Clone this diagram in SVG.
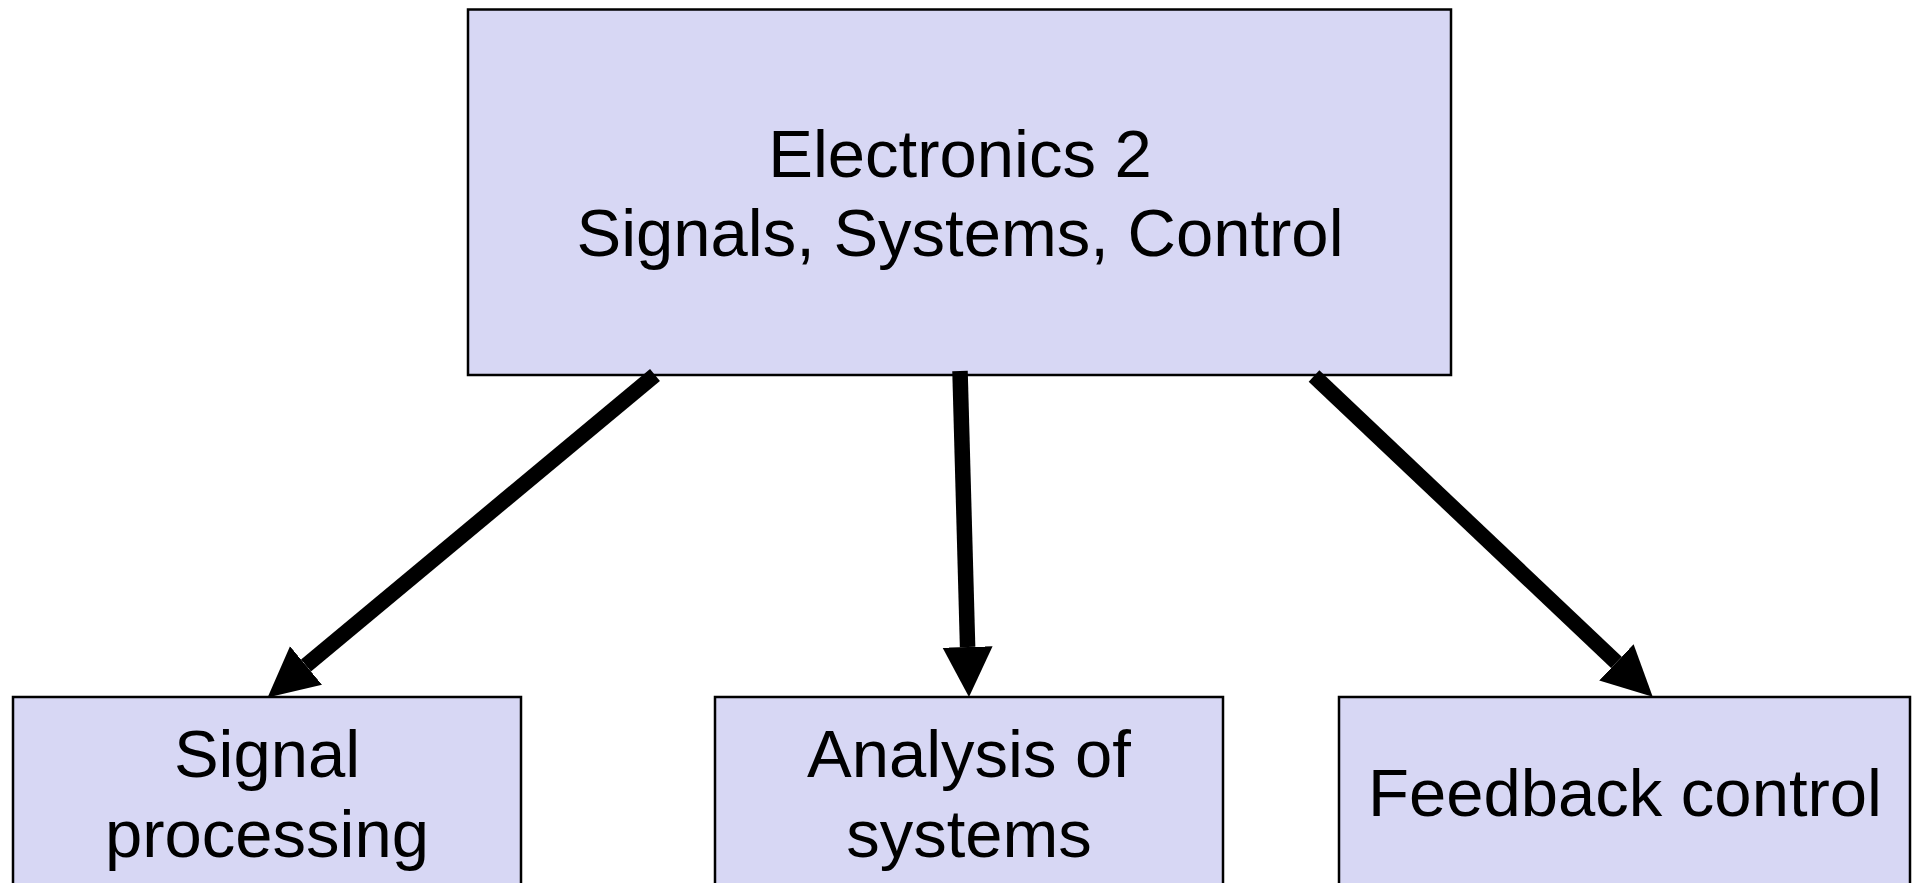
<svg xmlns="http://www.w3.org/2000/svg" width="1912" height="883" viewBox="0 0 1912 883">
  <style>
    .box { fill: #d7d7f4; stroke: #000; stroke-width: 2.5; }
    .label { font-family: "Liberation Sans", Arial, sans-serif; font-size: 67px; fill: #000; text-anchor: middle; }
    .edge { stroke: #000; stroke-width: 15.5; fill: none; marker-end: url(#head); }
  </style>
  <defs>
    <!-- filled arrowhead; its base sits on the line end -->
    <marker id="head" markerUnits="userSpaceOnUse" markerWidth="52" markerHeight="52" refX="0" refY="25" orient="auto" viewBox="0 0 52 52">
      <path d="M0,0 L50,25 L0,50 Z" fill="#000"/>
    </marker>
  </defs>

  <rect width="1912" height="883" fill="#fff"/>

  <g id="electronics2">
    <rect class="box" x="468" y="9.5" width="983" height="365.5"/>
    <text class="label" x="960" y="177">Electronics 2</text>
    <text class="label" x="960" y="256">Signals, Systems, Control</text>
  </g>

  <g id="connectors">
    <line class="edge" x1="655" y1="375" x2="306" y2="665.5"/>
    <line class="edge" x1="960" y1="371" x2="967.6" y2="647"/>
    <line class="edge" x1="1314" y1="376" x2="1616.4" y2="662.3"/>
  </g>

  <g id="signal-processing">
    <rect class="box" x="13" y="697" width="508" height="200"/>
    <text class="label" x="267" y="777">Signal</text>
    <text class="label" x="267" y="857">processing</text>
  </g>

  <g id="analysis-of-systems">
    <rect class="box" x="715" y="697" width="508" height="200"/>
    <text class="label" x="969" y="777">Analysis of</text>
    <text class="label" x="969" y="857">systems</text>
  </g>

  <g id="feedback-control">
    <rect class="box" x="1339" y="697" width="571" height="200"/>
    <text class="label" x="1625" y="816">Feedback control</text>
  </g>
</svg>
